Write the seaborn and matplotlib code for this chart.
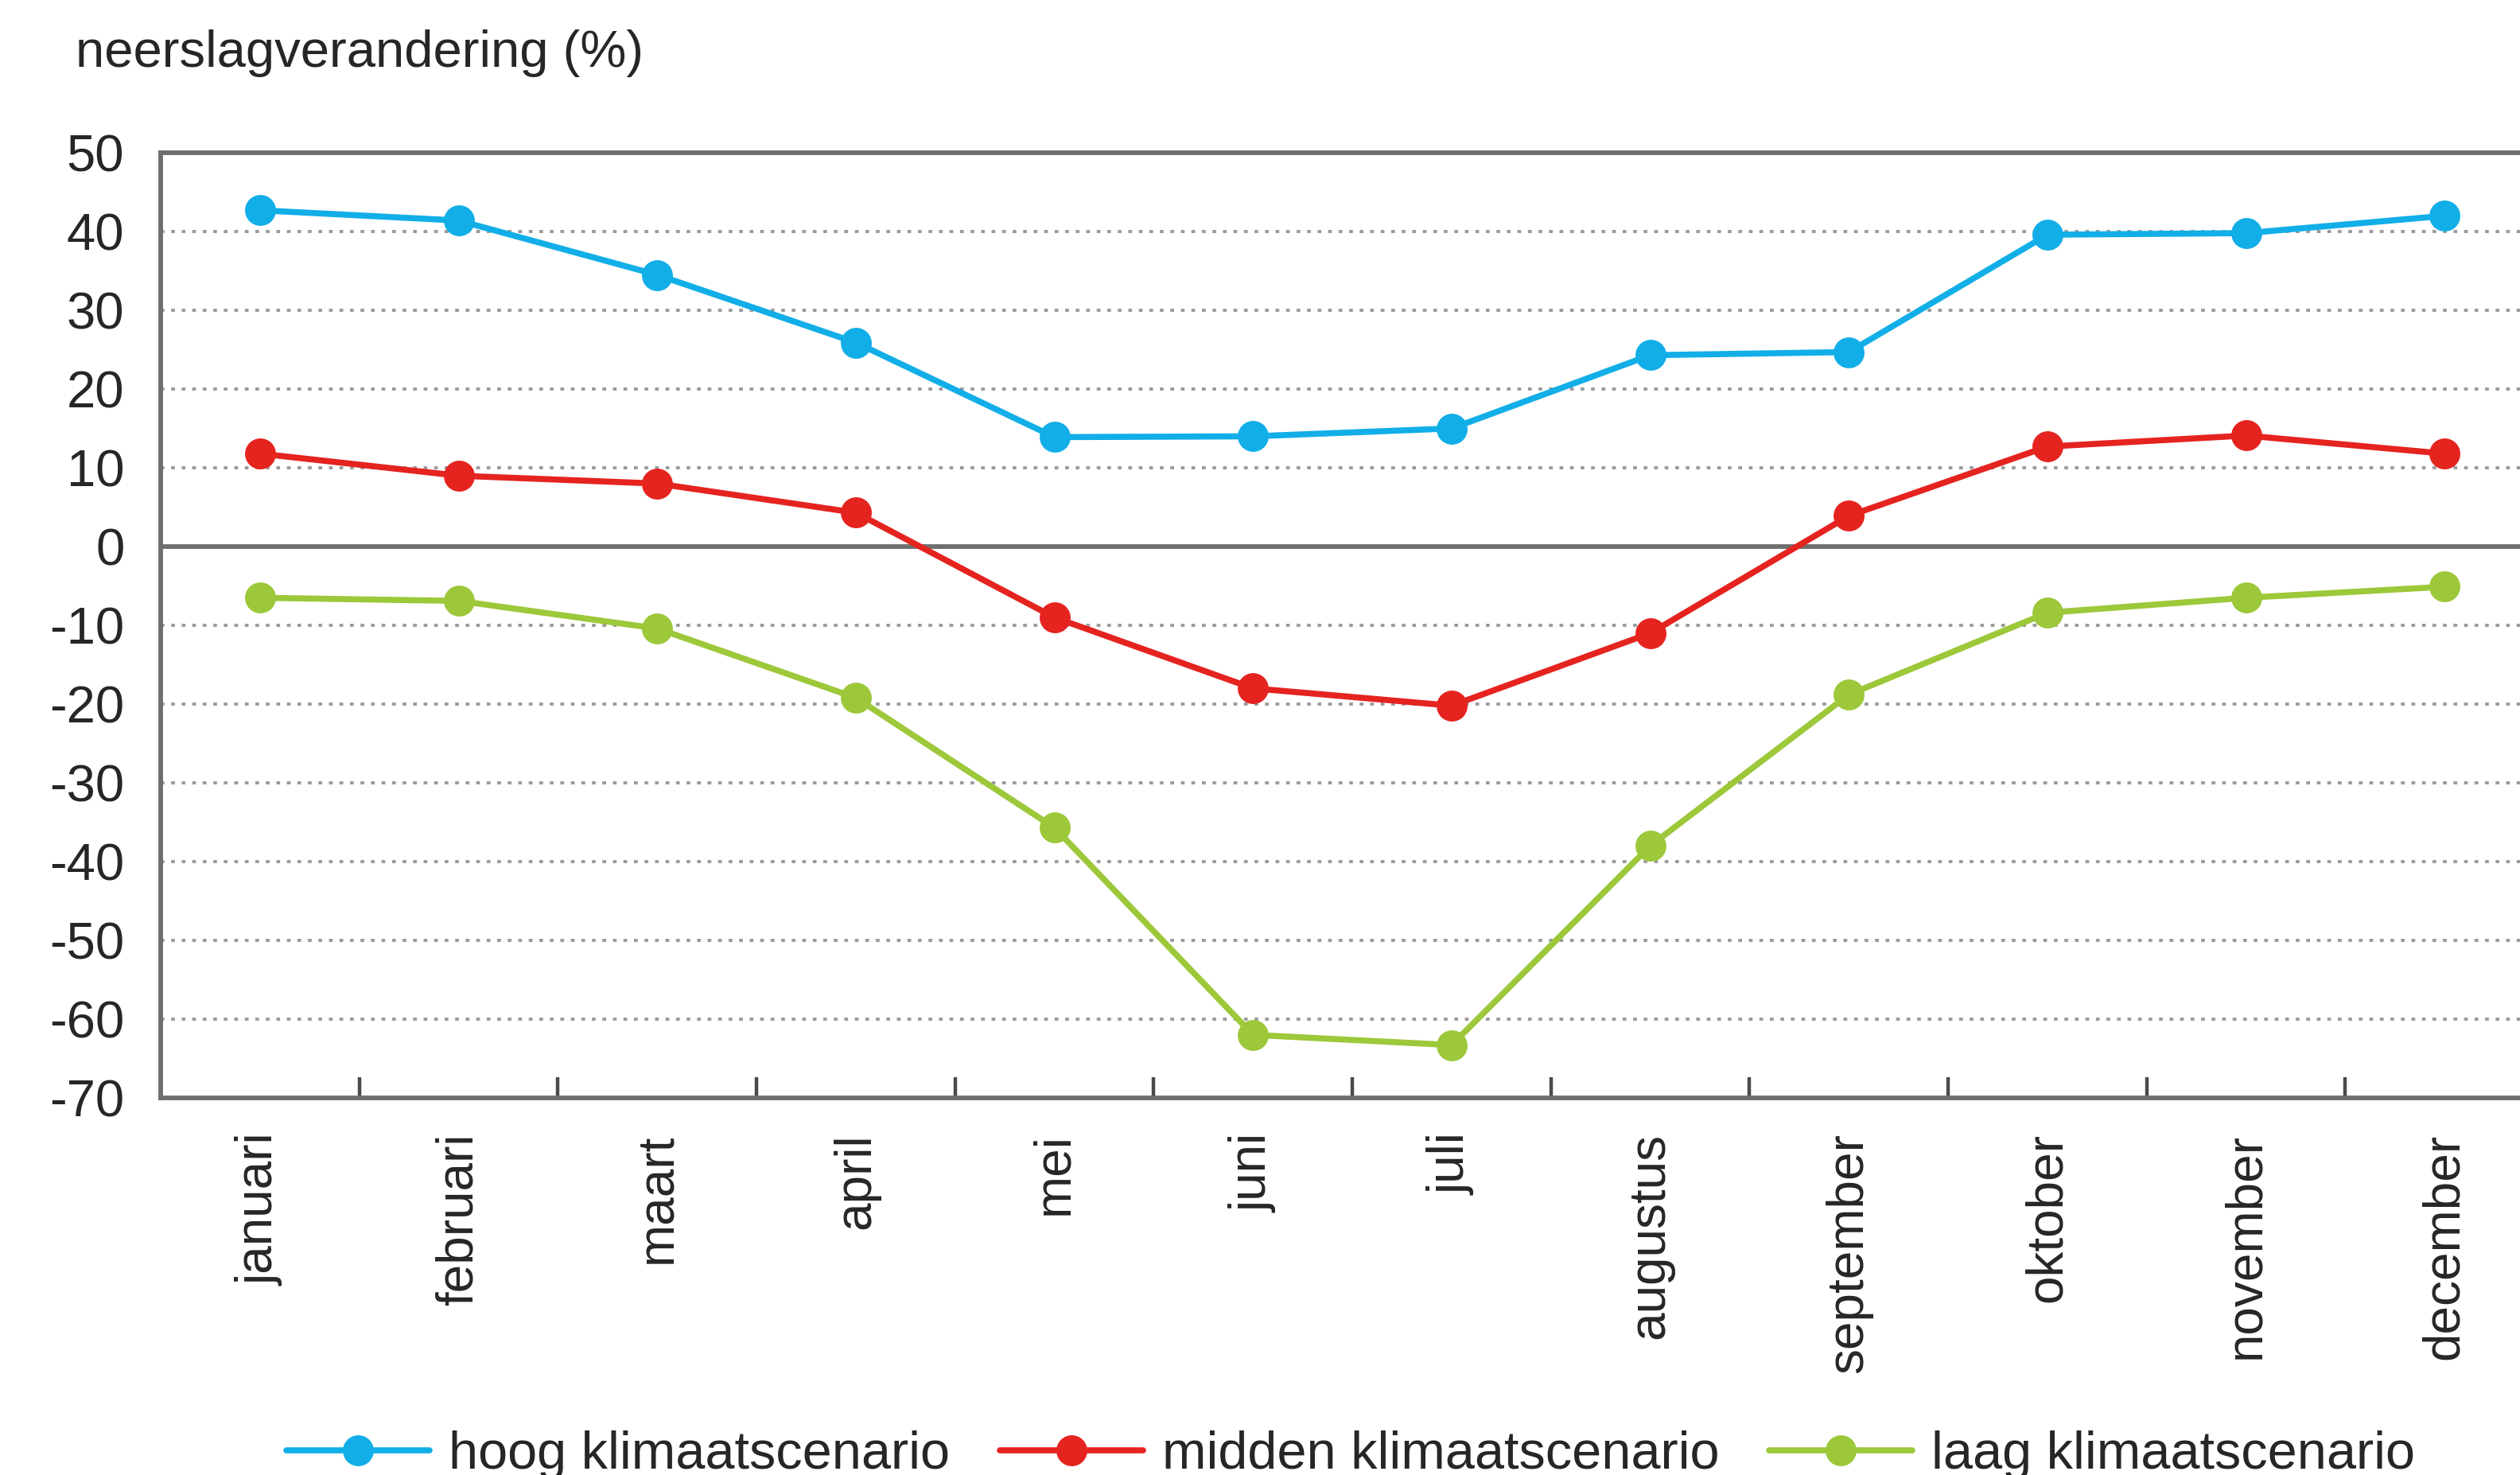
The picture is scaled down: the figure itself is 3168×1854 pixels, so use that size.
import pandas as pd
import matplotlib
matplotlib.use('Agg')
import matplotlib.pyplot as plt
import seaborn as sns

maanden = ['januari', 'februari', 'maart', 'april', 'mei', 'juni', 'juli',
           'augustus', 'september', 'oktober', 'november', 'december']
hoog = [42.7, 41.4, 34.5, 25.9, 13.9, 14.0, 15.0, 24.3, 24.7, 39.6, 39.8, 42.0]
midden = [11.8, 9.0, 8.0, 4.3, -9.0, -18.0, -20.2, -11.0, 3.9, 12.7, 14.1, 11.8]
laag = [-6.5, -6.9, -10.4, -19.2, -35.7, -62.0, -63.3, -38.0, -18.8, -8.4, -6.5, -5.1]
scenarios = ['hoog klimaatscenario', 'midden klimaatscenario', 'laag klimaatscenario']
kleuren = ['#12aee8', '#e5231f', '#9cc83a']
y_ticks = list(range(-70, 51, 10))

sns.set_theme(style='white')
plt.rcParams['font.family'] = ['Liberation Sans', 'DejaVu Sans']

fig = plt.figure(figsize=(31.68, 18.54), dpi=100)
ax = fig.add_axes([0.0638, 0.2557, 0.9457, 0.6407])

pos = list(range(len(maanden)))
for naam, waarden, kleur in zip(scenarios, [hoog, midden, laag], kleuren):
    df = pd.DataFrame({'pos': pos, 'waarde': waarden})
    sns.lineplot(data=df, x='pos', y='waarde', ax=ax, color=kleur, marker='o',
                 markersize=28, markeredgewidth=0, linewidth=5.5, label=naam,
                 legend=False, zorder=5)

spine_kleur = '#6e6e6e'
tekst_kleur = '#262626'
ax.set_xlim(-0.5, len(maanden) - 0.5)
ax.set_ylim(-70, 50)
ax.set_yticks(y_ticks)
ax.set_yticklabels([str(t) for t in y_ticks], fontsize=47, color=tekst_kleur)
ax.set_xticks(pos)
ax.set_xticklabels(maanden, rotation=90, fontsize=46, color=tekst_kleur, va='top')
ax.set_xticks([p + 0.5 for p in pos[:-1]], minor=True)
ax.tick_params(axis='y', length=0, pad=33)
ax.tick_params(axis='x', which='major', length=0, pad=32)
ax.tick_params(axis='x', which='minor', direction='in', length=19, width=3.2,
               color='#4a4a4a', bottom=True)
ax.set_xlabel('')
ax.set_ylabel('')

ax.yaxis.grid(True, linestyle=(0, (1.2, 2.2)), color='#9a9a9a', linewidth=2.8)
ax.xaxis.grid(False)
ax.axhline(0, color=spine_kleur, linewidth=4.2, zorder=3)
for s in ax.spines.values():
    s.set_color(spine_kleur)
    s.set_linewidth(4.2)

fig.text(0.03, 1 - 67 / 1854, 'neerslagverandering (%)', fontsize=47,
         color=tekst_kleur, va='center', ha='left')

handles, labels = ax.get_legend_handles_labels()
fig.legend(handles, labels, loc='center left', bbox_to_anchor=(0.1136, 0.0135),
           ncol=3, frameon=False, fontsize=48, handlelength=2.7,
           handletextpad=0.36, columnspacing=0.94, borderpad=0,
           borderaxespad=0, labelcolor=tekst_kleur)

fig.savefig('out.png', dpi=100)
